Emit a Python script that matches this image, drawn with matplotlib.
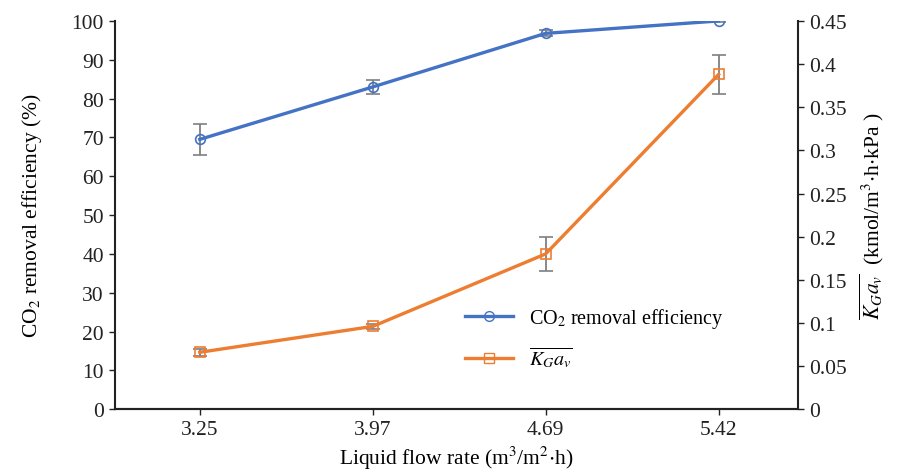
import numpy as np
import matplotlib
matplotlib.use('Agg')
import matplotlib.pyplot as plt
from matplotlib.lines import Line2D

plt.rcParams['font.family'] = ['Liberation Serif', 'DejaVu Serif']
plt.rcParams['mathtext.fontset'] = 'stix'

# data
flow = ['3.25', '3.97', '4.69', '5.42']
eff = [69.5, 83.0, 96.8, 100.0]
eff_err = [4.0, 1.8, 0.8, 0.4]
kga = [0.066, 0.096, 0.180, 0.388]
kga_err = [0.004, 0.003, 0.020, 0.023]

blue = '#4472C4'
orange = '#ED7D31'
ecol = '#7f7f7f'
fs = 15.5

fig = plt.figure(figsize=(9.08, 4.77), dpi=100)
ax = fig.add_axes([0.1267, 0.14, 0.7523, 0.814])
ax2 = ax.twinx()

x = np.arange(len(flow))
ax.errorbar(x, eff, yerr=eff_err, color=blue, lw=2.4, marker='o', ms=7,
            mfc='none', mec=blue, mew=1.2, ecolor=ecol, elinewidth=1.3,
            capsize=5, capthick=1.3)
ax2.errorbar(x, kga, yerr=kga_err, color=orange, lw=2.4, marker='s', ms=7,
             mfc='none', mec=orange, mew=1.2, ecolor=ecol, elinewidth=1.3,
             capsize=5, capthick=1.3)

ax.set_xlim(-0.49, 3.46)
ax.set_ylim(0, 100)
ax.set_yticks(np.arange(0, 101, 10))
ax2.set_ylim(0, 0.45)
ax2.set_yticks(np.arange(0, 0.451, 0.05))
ax2.set_yticklabels(['0', '0.05', '0.1', '0.15', '0.2', '0.25', '0.3', '0.35', '0.4', '0.45'])
ax.set_xticks(x)
ax.set_xticklabels(flow)

for a in (ax, ax2):
    a.spines['top'].set_visible(False)
    for s in a.spines.values():
        s.set_linewidth(1.5)
        s.set_color('#222222')
    a.tick_params(labelsize=fs, length=4, width=1.0, direction='out',
                  colors='#222222', pad=4)
ax2.spines['left'].set_visible(False)
ax.spines['right'].set_visible(False)

ax.set_xlabel(r'Liquid flow rate (m$^3$/m$^2$$\cdot$h)', fontsize=fs, labelpad=3)
ax.set_ylabel(r'CO$_2$ removal efficiency (%)', fontsize=fs, labelpad=20)
ax2.set_ylabel(r'$\overline{K_G a_v}$  (kmol/m$^3$$\cdot$h$\cdot$kPa )', fontsize=fs, labelpad=8)

h1 = Line2D([], [], color=blue, lw=2.4, marker='o', ms=7, mfc='none', mec=blue)
h2 = Line2D([], [], color=orange, lw=2.4, marker='s', ms=7, mfc='none', mec=orange)
fig.legend(handles=[h1, h2],
           labels=[r'CO$_2$ removal efficiency', r'$\overline{K_G a_v}$'],
           loc='upper left', bbox_to_anchor=(0.492, 0.395),
           frameon=False, fontsize=14.5, handlelength=2.4, labelspacing=0.75)

fig.savefig('out.png', dpi=100)
